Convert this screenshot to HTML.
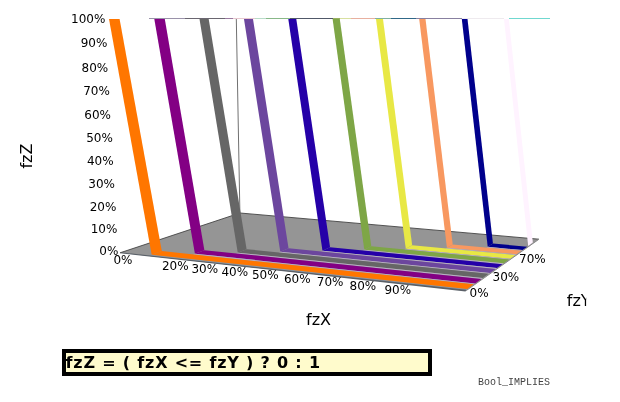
<!DOCTYPE html><html><head><meta charset="utf-8"><style>
html,body{margin:0;padding:0;background:#fff;}
body{width:620px;height:402px;overflow:hidden;position:relative;}
svg{position:absolute;left:0;top:0;will-change:transform;}
text{font-family:"DejaVu Sans",sans-serif;}
</style></head><body>
<svg width="620" height="402" viewBox="0 0 620 402">
<polygon points="120.10,252.80 466.20,290.60 539.00,239.20 240.00,213.00" fill="#959595"/>
<polygon points="148.16,255.86 466.20,290.60 468.44,289.02 151.68,254.64" fill="#8e98a4"/>
<polygon points="120.10,252.20 466.20,289.80 465.60,291.50 120.10,253.30" fill="#5a6068"/>
<polyline points="120.10,252.80 240.00,213.00 539.00,239.20" fill="none" stroke="#444" stroke-width="0.9"/>
<polyline points="539.00,239.20 466.20,290.60" fill="none" stroke="#8a8a8a" stroke-width="1"/>
<line x1="239.9" y1="213" x2="236.3" y2="18.5" stroke="#707070" stroke-width="1"/>
<line x1="149" y1="18.5" x2="185" y2="18.5" stroke="#9a92aa" stroke-width="1"/>
<line x1="185" y1="18.5" x2="225" y2="18.5" stroke="#6a6670" stroke-width="1"/>
<line x1="225" y1="18.5" x2="233" y2="18.5" stroke="#9a7aa0" stroke-width="1"/>
<line x1="233" y1="18.5" x2="255" y2="18.5" stroke="#e8c8d0" stroke-width="1"/>
<line x1="255" y1="18.5" x2="266" y2="18.5" stroke="#b8dcc8" stroke-width="1"/>
<line x1="266" y1="18.5" x2="290" y2="18.5" stroke="#88b888" stroke-width="1"/>
<line x1="290" y1="18.5" x2="333" y2="18.5" stroke="#505868" stroke-width="1"/>
<line x1="333" y1="18.5" x2="340" y2="18.5" stroke="#98b060" stroke-width="1"/>
<line x1="340" y1="18.5" x2="351" y2="18.5" stroke="#d8e0a0" stroke-width="1"/>
<line x1="351" y1="18.5" x2="375" y2="18.5" stroke="#e8b0a0" stroke-width="1"/>
<line x1="375" y1="18.5" x2="391" y2="18.5" stroke="#80b0a0" stroke-width="1"/>
<line x1="391" y1="18.5" x2="416" y2="18.5" stroke="#306888" stroke-width="1"/>
<line x1="416" y1="18.5" x2="462" y2="18.5" stroke="#8880a0" stroke-width="1"/>
<line x1="462" y1="18.5" x2="504" y2="18.5" stroke="#eeeaee" stroke-width="1"/>
<line x1="509" y1="18.5" x2="550" y2="18.5" stroke="#70d8d0" stroke-width="1"/>
<polygon points="504.00,19.00 508.80,19.00 532.84,242.60 528.18,245.88" fill="#fff3ff"/>
<polygon points="487.71,246.82 522.48,250.03 527.31,246.63 492.94,243.52" fill="#00008c"/>
<polygon points="461.80,19.00 467.50,19.00 492.94,243.52 487.71,246.82" fill="#00008c"/>
<polygon points="486.54,247.56 521.40,250.79 522.48,250.03 487.71,246.82" fill="#b8aec4"/>
<polygon points="446.91,247.77 516.41,254.30 521.40,250.79 452.72,244.44" fill="#f89860"/>
<polygon points="419.20,19.00 425.50,19.00 452.72,244.44 446.91,247.77" fill="#f89860"/>
<polygon points="445.61,248.52 515.30,255.08 516.41,254.30 446.91,247.77" fill="#b8aec4"/>
<polygon points="405.77,248.73 510.13,258.72 515.30,255.08 412.17,245.37" fill="#e8e845"/>
<polygon points="376.00,19.00 383.00,19.00 412.17,245.37 405.77,248.73" fill="#e8e845"/>
<polygon points="404.34,249.48 508.97,259.53 510.13,258.72 405.77,248.73" fill="#b8aec4"/>
<polygon points="364.30,249.69 503.62,263.30 508.97,259.53 371.29,246.30" fill="#7ea646"/>
<polygon points="332.60,19.00 339.80,19.00 371.29,246.30 364.30,249.69" fill="#7ea646"/>
<polygon points="362.74,250.45 502.43,264.14 503.62,263.30 364.30,249.69" fill="#b8aec4"/>
<polygon points="322.48,250.67 496.88,268.04 502.43,264.14 330.07,247.25" fill="#2500a8"/>
<polygon points="288.30,19.00 296.30,19.00 330.07,247.25 322.48,250.67" fill="#2500a8"/>
<polygon points="320.78,251.43 495.64,268.92 496.88,268.04 322.48,250.67" fill="#b8aec4"/>
<polygon points="280.31,251.65 489.88,272.97 495.64,268.92 288.52,248.20" fill="#6c469e"/>
<polygon points="244.00,19.00 253.00,19.00 288.52,248.20 280.31,251.65" fill="#6c469e"/>
<polygon points="278.48,252.42 488.60,273.87 489.88,272.97 280.31,251.65" fill="#b8aec4"/>
<polygon points="237.79,252.63 482.63,278.07 488.60,273.87 246.62,249.16" fill="#666666"/>
<polygon points="199.50,19.00 208.70,19.00 246.62,249.16 237.79,252.63" fill="#666666"/>
<polygon points="235.82,253.41 481.29,279.01 482.63,278.07 237.79,252.63" fill="#b8aec4"/>
<polygon points="194.91,253.63 475.09,283.38 481.29,279.01 204.38,250.13" fill="#830084"/>
<polygon points="154.30,19.00 164.80,19.00 204.38,250.13 194.91,253.63" fill="#830084"/>
<polygon points="192.80,254.41 473.70,284.35 475.09,283.38 194.91,253.63" fill="#b8aec4"/>
<polygon points="151.68,254.64 467.26,288.89 473.70,284.35 161.79,251.11" fill="#ff7600"/>
<polygon points="109.00,19.00 119.60,19.00 161.79,251.11 151.68,254.64" fill="#ff7600"/>
<text x="105.4" y="22.8" font-size="12" text-anchor="end" fill="#000">100%</text>
<text x="107.3" y="47.2" font-size="12" text-anchor="end" fill="#000">90%</text>
<text x="108.2" y="72.0" font-size="12" text-anchor="end" fill="#000">80%</text>
<text x="109.8" y="95.3" font-size="12" text-anchor="end" fill="#000">70%</text>
<text x="111.0" y="119.1" font-size="12" text-anchor="end" fill="#000">60%</text>
<text x="112.8" y="142.2" font-size="12" text-anchor="end" fill="#000">50%</text>
<text x="113.6" y="165.2" font-size="12" text-anchor="end" fill="#000">40%</text>
<text x="115.0" y="188.0" font-size="12" text-anchor="end" fill="#000">30%</text>
<text x="116.4" y="210.9" font-size="12" text-anchor="end" fill="#000">20%</text>
<text x="117.4" y="233.1" font-size="12" text-anchor="end" fill="#000">10%</text>
<text x="118.4" y="255.0" font-size="12" text-anchor="end" fill="#000">0%</text>
<text x="113.4" y="264.0" font-size="12" fill="#000">0%</text>
<text x="161.9" y="270.0" font-size="12" fill="#000">20%</text>
<text x="191.4" y="273.2" font-size="12" fill="#000">30%</text>
<text x="221.4" y="275.8" font-size="12" fill="#000">40%</text>
<text x="251.9" y="278.5" font-size="12" fill="#000">50%</text>
<text x="283.9" y="283.0" font-size="12" fill="#000">60%</text>
<text x="316.8" y="286.0" font-size="12" fill="#000">70%</text>
<text x="349.6" y="289.8" font-size="12" fill="#000">80%</text>
<text x="384.4" y="293.7" font-size="12" fill="#000">90%</text>
<text x="469.6" y="296.6" font-size="12" fill="#000">0%</text>
<text x="492.5" y="280.8" font-size="12" fill="#000">30%</text>
<text x="519.0" y="263.0" font-size="12" fill="#000">70%</text>
<text x="306" y="324.8" font-size="16" fill="#000">fzX</text>
<text transform="translate(32.2,168.6) rotate(-90)" font-size="16" fill="#000">fzZ</text>
<clipPath id="cy"><rect x="0" y="0" width="586.2" height="402"/></clipPath>
<text x="566.8" y="305.5" font-size="16" fill="#000" clip-path="url(#cy)">fzY</text>
<rect x="64" y="351" width="366" height="23" fill="#fffbcc" stroke="#000" stroke-width="4"/>
<text x="65.5" y="367.6" font-size="16" font-weight="bold" fill="#000" textLength="254.6" lengthAdjust="spacing">fzZ = ( fzX &lt;= fzY ) ? 0 : 1</text>
<text x="478" y="385" font-size="10" fill="#444" style="font-family:'Liberation Mono',monospace">Bool_IMPLIES</text>
</svg></body></html>
